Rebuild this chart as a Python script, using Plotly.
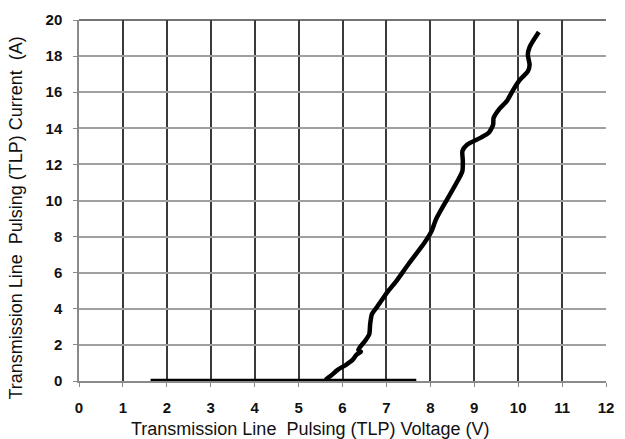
import plotly.graph_objects as go

# Rising I-V branch (TLP voltage in V, current in A)
rise_v = [5.61, 5.74, 5.89, 6.08, 6.23, 6.32, 6.42, 6.36, 6.52, 6.61, 6.63, 6.67, 6.78,
          7.03, 7.23, 7.50, 7.87, 8.03, 8.13, 8.36, 8.62, 8.73, 8.74, 8.73, 8.84, 9.14,
          9.33, 9.43, 9.44, 9.56, 9.74, 9.89, 10.04, 10.22, 10.26, 10.22, 10.26, 10.47]
rise_i = [0.05, 0.30, 0.62, 0.90, 1.17, 1.46, 1.62, 1.72, 2.24, 2.60, 3.16, 3.71, 4.08,
          4.95, 5.55, 6.47, 7.67, 8.31, 8.96, 9.97, 11.08, 11.63, 12.20, 12.73, 13.10, 13.47,
          13.75, 14.20, 14.57, 15.04, 15.50, 16.14, 16.69, 17.15, 17.52, 18.07, 18.50, 19.33]

# Off-state branch along zero current
off_v = [1.63, 7.68]
off_i = [0.0, 0.0]

x_ticks = list(range(0, 13))
y_ticks = list(range(0, 21, 2))

fig = go.Figure()
fig.add_trace(go.Scatter(x=off_v, y=off_i, mode="lines",
                         line=dict(color="black", width=4.5), showlegend=False))
fig.add_trace(go.Scatter(x=rise_v, y=rise_i, mode="lines",
                         line=dict(color="black", width=4.5, shape="spline", smoothing=0.6),
                         showlegend=False))

tickfont = dict(family="Liberation Sans, Arial, sans-serif", size=15, color="#111111")

fig.update_layout(
    width=625, height=439,
    margin=dict(l=79, r=11, t=17, b=58),
    paper_bgcolor="white", plot_bgcolor="white",
    font=dict(family="Liberation Sans, Arial, sans-serif", color="black"),
    xaxis=dict(range=[0, 12], tickvals=x_ticks, ticktext=[f"<b>{t}</b>" for t in x_ticks],
               tickfont=tickfont, showgrid=True, gridcolor="#3a3a3a", gridwidth=1.5,
               zeroline=False, showline=True, linecolor="#8a8a8a", linewidth=1.5,
               ticks="outside", ticklen=4, tickcolor="#8a8a8a", tickwidth=1,
               ticklabelstandoff=8),
    yaxis=dict(range=[0, 20], tickvals=y_ticks, ticktext=[f"<b>{t}</b>" for t in y_ticks],
               tickfont=tickfont, showgrid=True, gridcolor="#a0a0a0", gridwidth=1.5,
               zeroline=False, showline=True, linecolor="#8a8a8a", linewidth=1.5,
               ticks="outside", ticklen=4, tickcolor="#8a8a8a", tickwidth=1,
               ticklabelstandoff=8),
    shapes=[dict(type="line", xref="paper", yref="paper", x0=0, x1=1, y0=1, y1=1,
                 line=dict(color="#444444", width=1.5))],
    annotations=[
        dict(text="Transmission Line  Pulsing (TLP) Voltage (V)",
             xref="paper", yref="paper", x=0.439, y=-0.1,
             xanchor="center", yanchor="top", showarrow=False,
             font=dict(size=18, color="#111111")),
        dict(text="Transmission Line  Pulsing (TLP) Current  (A)",
             xref="paper", yref="paper", x=-0.1196, y=0.4525, textangle=-90,
             xanchor="center", yanchor="middle", showarrow=False,
             font=dict(size=18, color="#111111")),
    ],
)

fig.write_html("out.html")
